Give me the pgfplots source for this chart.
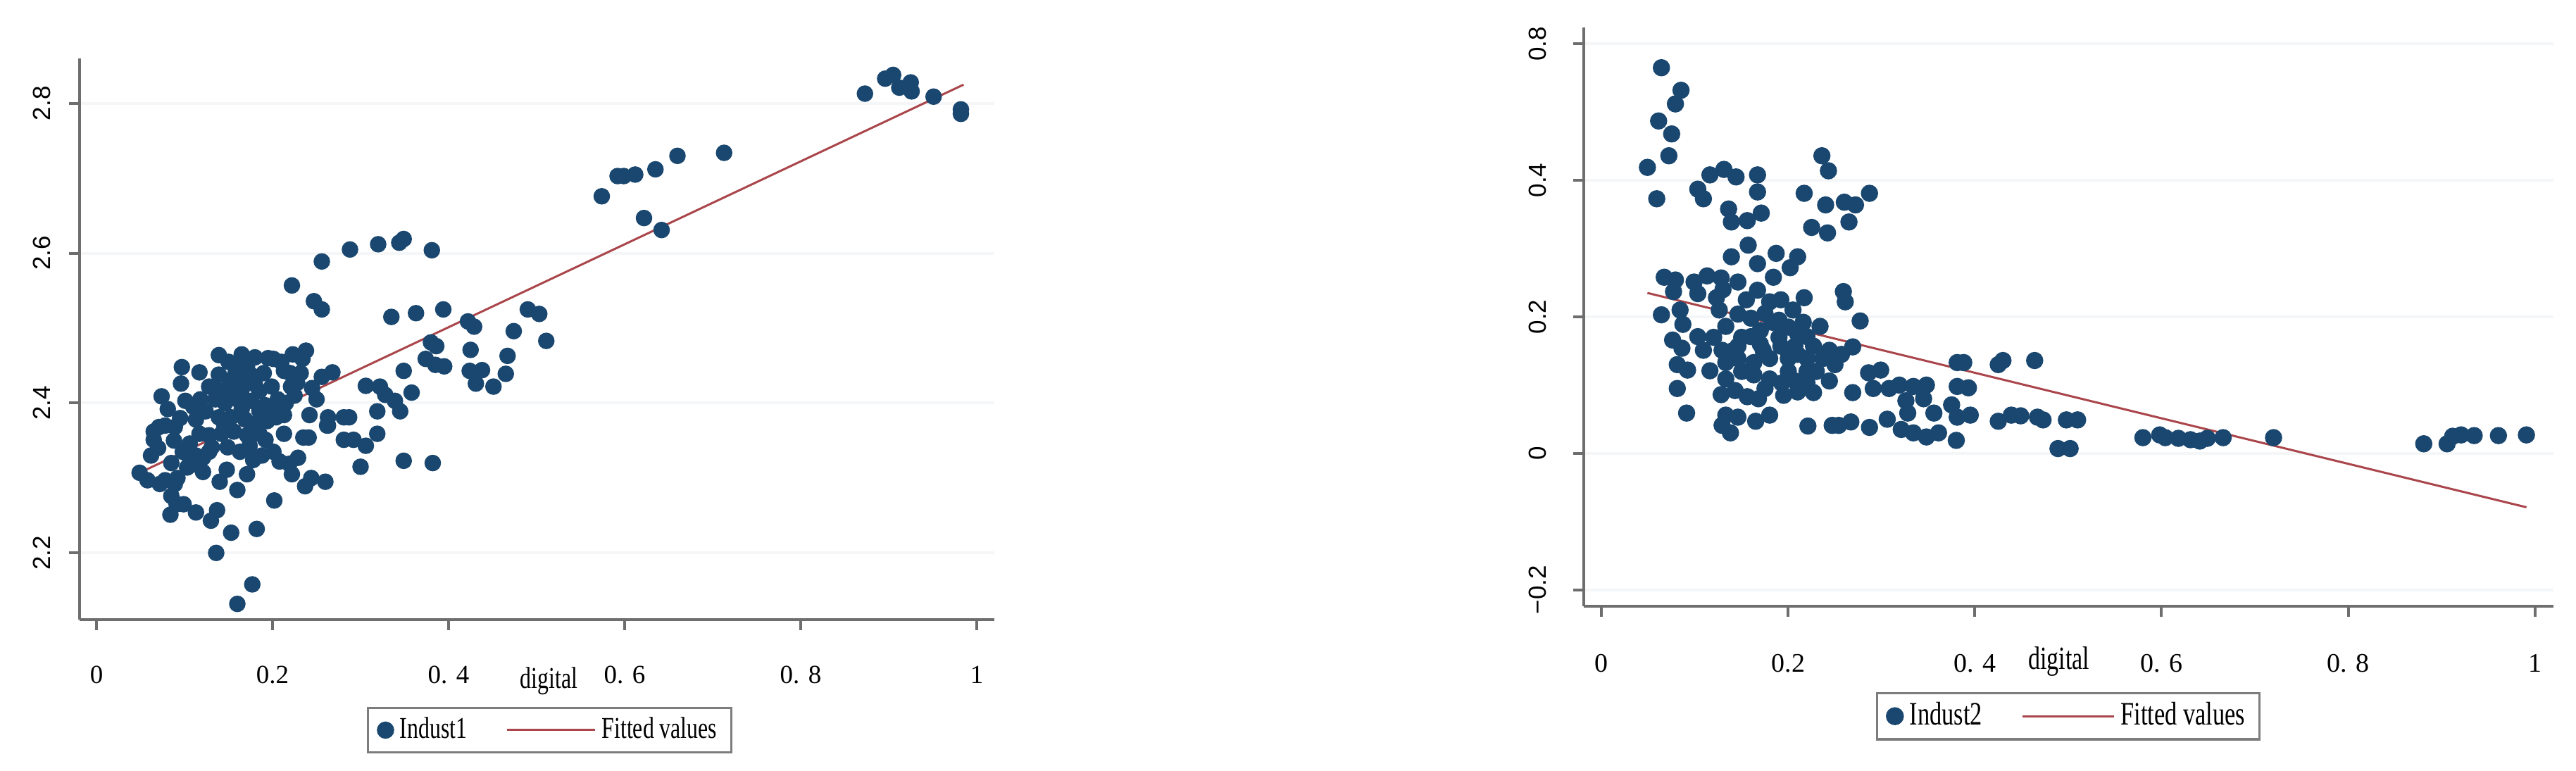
\documentclass[border=0pt]{standalone}
\usepackage{fontspec}
\setmainfont{Liberation Serif}
\setsansfont{Liberation Sans}
\newfontfamily\legfont[FakeStretch=0.74]{Liberation Serif}
\usepackage{pgfplots}
\pgfplotsset{compat=1.18}

\definecolor{navy}{RGB}{26,71,111}
\definecolor{maroon}{RGB}{170,70,75}
\definecolor{axgray}{RGB}{110,110,110}
\definecolor{leggray}{RGB}{125,125,125}
\definecolor{gridc}{RGB}{244,246,248}

% Stata-like scatter + fit look
\pgfplotsset{stata/.style={
  scale only axis, anchor=south west,
  axis lines=left, axis line style={-, axgray, line width=0.8pt},
  tick align=outside, major tick length=3pt,
  tick style={axgray, line width=0.8pt},
  xmin=-0.0192, xmax=1.02,
  xtick={0,0.2,0.4,0.6,0.8,1},
  xticklabels={0,0.2,0. 4,0. 6,0. 8,1},
  ymajorgrids, major grid style={gridc, line width=0.8pt},
  xticklabel style={anchor=north, inner sep=0pt},
  yticklabel style={rotate=90, anchor=south, inner sep=0pt,
    font=\sffamily\fontsize{7}{8}\selectfont},
  xlabel={digital},
  legend columns=2,
  legend style={draw=leggray, line width=0.7pt, anchor=center,
    inner xsep=2.5pt, inner ysep=1pt,
    nodes={inner sep=1.6pt},
    /tikz/every even column/.append style={column sep=9.5pt}},
}}

\pgfplotstableread{
x y
0.049 2.307
0.062 2.330
0.065 2.362
0.071 2.368
0.078 2.370
0.089 2.368
0.065 2.351
0.074 2.409
0.081 2.392
0.097 2.448
0.096 2.426
0.101 2.403
0.117 2.441
0.058 2.297
0.072 2.292
0.078 2.297
0.089 2.292
0.085 2.276
0.091 2.265
0.084 2.251
0.099 2.265
0.113 2.254
0.130 2.243
0.137 2.257
0.136 2.200
0.153 2.227
0.182 2.232
0.160 2.132
0.177 2.158
0.140 2.295
0.148 2.311
0.160 2.284
0.171 2.305
0.178 2.324
0.188 2.330
0.202 2.270
0.201 2.335
0.208 2.322
0.219 2.319
0.229 2.327
0.222 2.305
0.237 2.289
0.244 2.300
0.260 2.295
0.213 2.359
0.213 2.384
0.235 2.354
0.242 2.384
0.263 2.381
0.263 2.370
0.256 2.435
0.268 2.441
0.234 2.459
0.238 2.470
0.223 2.465
0.201 2.459
0.213 2.443
0.180 2.461
0.139 2.464
0.160 2.454
0.171 2.449
0.139 2.438
0.128 2.422
0.151 2.430
0.169 2.427
0.185 2.416
0.199 2.422
0.221 2.422
0.228 2.427
0.206 2.405
0.192 2.397
0.176 2.403
0.160 2.405
0.146 2.400
0.135 2.405
0.124 2.389
0.113 2.378
0.139 2.381
0.153 2.381
0.169 2.378
0.181 2.373
0.194 2.376
0.204 2.381
0.117 2.359
0.128 2.357
0.142 2.359
0.156 2.362
0.171 2.357
0.185 2.359
0.192 2.351
0.106 2.346
0.113 2.330
0.128 2.335
0.103 2.314
0.106 2.327
0.121 2.327
0.131 2.341
0.149 2.341
0.163 2.335
0.174 2.343
0.121 2.308
0.150 2.415
0.165 2.418
0.180 2.425
0.158 2.440
0.175 2.438
0.190 2.440
0.145 2.372
0.165 2.392
0.185 2.390
0.200 2.395
0.215 2.400
0.225 2.410
0.232 2.440
0.245 2.420
0.250 2.405
0.135 2.420
0.118 2.405
0.110 2.395
0.095 2.380
0.088 2.350
0.098 2.335
0.110 2.318
0.085 2.320
0.070 2.340
0.092 2.300
0.220 2.440
0.210 2.455
0.195 2.460
0.165 2.465
0.150 2.455
0.306 2.423
0.322 2.422
0.328 2.411
0.319 2.389
0.339 2.403
0.345 2.389
0.349 2.443
0.358 2.414
0.319 2.359
0.281 2.351
0.292 2.351
0.306 2.343
0.300 2.315
0.349 2.323
0.382 2.320
0.281 2.381
0.287 2.381
0.262 2.370
0.241 2.354
0.335 2.515
0.363 2.520
0.394 2.525
0.422 2.509
0.429 2.502
0.380 2.481
0.386 2.476
0.374 2.459
0.385 2.451
0.395 2.449
0.425 2.471
0.424 2.443
0.431 2.426
0.438 2.444
0.451 2.422
0.467 2.463
0.465 2.439
0.474 2.496
0.490 2.525
0.503 2.519
0.511 2.483
0.222 2.557
0.256 2.589
0.247 2.536
0.256 2.525
0.288 2.605
0.320 2.612
0.344 2.614
0.349 2.619
0.381 2.604
0.574 2.676
0.592 2.703
0.599 2.703
0.612 2.705
0.635 2.712
0.660 2.730
0.713 2.734
0.622 2.647
0.642 2.631
0.873 2.813
0.896 2.833
0.905 2.838
0.912 2.821
0.925 2.828
0.926 2.816
0.951 2.809
0.982 2.792
0.982 2.786
}\indusone

\pgfplotstableread{
x y
0.064 0.565
0.085 0.532
0.079 0.512
0.061 0.487
0.075 0.468
0.072 0.436
0.049 0.419
0.059 0.373
0.116 0.408
0.131 0.416
0.144 0.405
0.167 0.408
0.103 0.387
0.109 0.373
0.167 0.383
0.136 0.358
0.171 0.352
0.139 0.339
0.156 0.341
0.236 0.436
0.243 0.414
0.217 0.381
0.240 0.364
0.260 0.368
0.272 0.364
0.287 0.381
0.225 0.331
0.242 0.323
0.265 0.339
0.157 0.305
0.139 0.288
0.187 0.293
0.167 0.278
0.184 0.258
0.210 0.288
0.202 0.272
0.067 0.258
0.079 0.254
0.077 0.237
0.099 0.251
0.113 0.260
0.128 0.257
0.146 0.251
0.103 0.234
0.123 0.228
0.167 0.239
0.180 0.222
0.192 0.225
0.217 0.228
0.205 0.210
0.259 0.237
0.261 0.222
0.277 0.194
0.064 0.203
0.084 0.210
0.087 0.189
0.126 0.210
0.133 0.186
0.146 0.204
0.160 0.198
0.170 0.180
0.183 0.192
0.160 0.171
0.216 0.192
0.234 0.186
0.220 0.171
0.076 0.166
0.103 0.171
0.086 0.154
0.109 0.151
0.129 0.151
0.146 0.157
0.173 0.151
0.192 0.157
0.207 0.157
0.227 0.157
0.244 0.151
0.257 0.145
0.269 0.156
0.081 0.130
0.092 0.122
0.116 0.121
0.133 0.133
0.146 0.139
0.163 0.133
0.180 0.139
0.200 0.139
0.220 0.139
0.237 0.139
0.133 0.109
0.163 0.115
0.180 0.109
0.193 0.103
0.207 0.106
0.220 0.103
0.244 0.106
0.081 0.095
0.128 0.086
0.143 0.092
0.156 0.083
0.168 0.080
0.227 0.089
0.269 0.089
0.150 0.170
0.170 0.160
0.190 0.170
0.210 0.175
0.200 0.120
0.220 0.120
0.150 0.120
0.140 0.150
0.120 0.170
0.130 0.240
0.155 0.225
0.175 0.205
0.190 0.195
0.200 0.185
0.210 0.145
0.230 0.120
0.250 0.130
0.195 0.085
0.210 0.090
0.175 0.095
0.286 0.118
0.299 0.122
0.291 0.095
0.308 0.095
0.319 0.100
0.334 0.098
0.348 0.100
0.326 0.077
0.328 0.059
0.345 0.080
0.356 0.059
0.375 0.071
0.381 0.133
0.388 0.133
0.381 0.098
0.393 0.096
0.381 0.053
0.395 0.056
0.380 0.019
0.361 0.030
0.348 0.024
0.334 0.030
0.321 0.035
0.306 0.050
0.287 0.038
0.267 0.046
0.254 0.041
0.247 0.041
0.221 0.040
0.091 0.059
0.129 0.041
0.138 0.030
0.133 0.056
0.146 0.053
0.165 0.047
0.180 0.056
0.425 0.130
0.430 0.136
0.464 0.136
0.425 0.047
0.439 0.056
0.449 0.055
0.467 0.053
0.473 0.049
0.489 0.007
0.502 0.007
0.498 0.049
0.510 0.049
0.580 0.023
0.598 0.027
0.604 0.023
0.618 0.022
0.631 0.020
0.641 0.018
0.649 0.022
0.666 0.023
0.720 0.023
0.881 0.014
0.906 0.014
0.912 0.025
0.921 0.027
0.935 0.026
0.961 0.026
0.991 0.027
}\industwo

\begin{document}
\begin{tikzpicture}
\path[use as bounding box] (0,0) rectangle (731.6pt,219pt);

% left panel
\begin{axis}[stata,
  at={(22.6pt,43pt)}, width=259.8pt, height=159.4pt,
  ymin=2.111, ymax=2.86,
  ytick={2.2,2.4,2.6,2.8}, yticklabels={2.2,2.4,2.6,2.8},
  xticklabel shift=10pt, yticklabel shift=5pt,
  xticklabel style={font=\fontsize{7.4}{8}\selectfont},
  xlabel style={at={(axis description cs:0.513,-0.109)}, anchor=center,
    font=\legfont\fontsize{8.6}{9}\selectfont},
  legend style={at={(0.514,-0.197)}, font=\legfont\fontsize{8.6}{9}\selectfont},
]
\addplot[only marks, mark=*, mark size=2.15pt, color=navy,
  legend image code/.code={\fill[navy] (2pt,0pt) circle (2.1pt);}]
  table[x=x, y=y] {\indusone};
\addlegendentry{Indust1}
\addplot[maroon, line width=0.6pt,
  legend image code/.code={\draw[maroon, line width=0.6pt] (0pt,0pt) -- (25pt,0pt);}]
  coordinates {(0.049,2.307) (0.985,2.825)};
\addlegendentry{Fitted values}
\end{axis}

% right panel
\begin{axis}[stata,
  at={(449.8pt,46.8pt)}, width=275.4pt, height=164.4pt,
  ymin=-0.224, ymax=0.624,
  ytick={-0.2,0,0.2,0.4,0.6}, yticklabels={−0.2,0,0.2,0.4,0.8},
  xticklabel shift=10.5pt, yticklabel shift=7.4pt,
  xticklabel style={font=\fontsize{7.6}{8}\selectfont},
  xlabel style={at={(axis description cs:0.49,-0.096)}, anchor=center,
    font=\legfont\fontsize{9.2}{10}\selectfont},
  legend style={at={(0.4997,-0.19)}, font=\legfont\fontsize{9.3}{10}\selectfont},
]
\addplot[only marks, mark=*, mark size=2.25pt, color=navy,
  legend image code/.code={\fill[navy] (2pt,0pt) circle (2.2pt);}]
  table[x=x, y=y] {\industwo};
\addlegendentry{Indust2}
\addplot[maroon, line width=0.6pt,
  legend image code/.code={\draw[maroon, line width=0.6pt] (0pt,0pt) -- (26pt,0pt);}]
  coordinates {(0.049,0.235) (0.991,-0.079)};
\addlegendentry{Fitted values}
\end{axis}
\end{tikzpicture}
\end{document}
